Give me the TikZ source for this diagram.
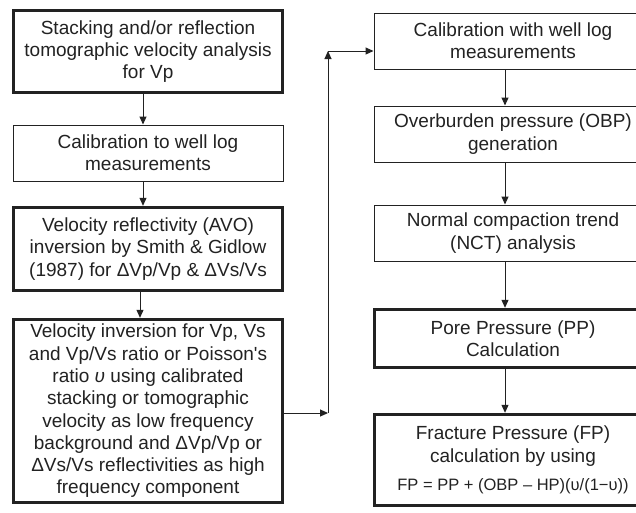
\documentclass[tikz,border=0pt]{standalone}
\usepackage{fontspec}
\setmainfont{Liberation Sans}
\usetikzlibrary{arrows.meta}
\definecolor{ink}{HTML}{222222}
\tikzset{
  box/.style={draw=ink, line width=1pt, rectangle, inner sep=0pt, align=center,
     text=ink, font=\fontsize{19}{22.3}\selectfont},
  thickbox/.style={box, line width=3.4pt},
  conn/.style={draw=ink, line width=1pt, -{Triangle[length=8pt,width=7pt]}},
  plain/.style={draw=ink, line width=1pt}
}
\begin{document}
\begin{tikzpicture}[x=1pt,y=-1pt]
\clip (0,0) rectangle (636,512);
\fill[white] (0,0) rectangle (636,512);
% left column
\node[thickbox, minimum width=269pt, minimum height=82pt] (b1) at (148,51.5)
  {Stacking and/or reflection\\tomographic velocity analysis\\for Vp};
\node[box, minimum width=270pt, minimum height=56pt] (b2) at (148,153)
  {Calibration to well log\\measurements};
\node[thickbox, minimum width=269pt, minimum height=83pt] (b3) at (148,249)
  {Velocity reflectivity (AVO)\\inversion by Smith \& Gidlow\\(1987) for ΔVp/Vp \& ΔVs/Vs};
\node[thickbox, minimum width=269pt, minimum height=183pt] (b4) at (148,411)
  {Velocity inversion for Vp, Vs\\and Vp/Vs ratio or Poisson\textquotesingle s\\ratio {\itshape υ} using calibrated\\stacking or tomographic\\velocity as low frequency\\background and ΔVp/Vp or\\ΔVs/Vs reflectivities as high\\frequency component};
% right column
\node[box, minimum width=278pt, minimum height=56pt] (b5) at (513,41)
  {Calibration with well log\\measurements};
\node[box, minimum width=278pt, minimum height=56pt] (b6) at (513,134)
  {Overburden pressure (OBP)\\generation};
\node[box, minimum width=278pt, minimum height=56pt] (b7) at (513,233)
  {Normal compaction trend\\(NCT) analysis};
\node[thickbox, minimum width=277pt, minimum height=58pt] (b8) at (513,338.5)
  {Pore Pressure (PP)\\Calculation};
\node[thickbox, minimum width=277pt, minimum height=91pt] (b9) at (513,460)
  {Fracture Pressure (FP)\\calculation by using\\[6pt]{\fontsize{16.5}{18}\selectfont FP = PP + (OBP – HP)(υ/(1−υ))}};
% connectors left
\draw[conn] ([xshift=-5pt]b1.south) -- ([xshift=-5pt]b2.north);
\draw[conn] ([xshift=-5pt]b2.south) -- ([xshift=-5pt]b3.north);
\draw[conn] ([xshift=-8pt]b3.south) -- ([xshift=-8pt]b4.north);
% connectors right
\draw[conn] ([xshift=-8pt]b5.south) -- ([xshift=-8pt]b6.north);
\draw[conn] ([xshift=-8pt]b6.south) -- ([xshift=-8pt]b7.north);
\draw[conn] ([xshift=-8pt]b7.south) -- ([xshift=-8pt]b8.north);
\draw[conn] ([xshift=-8pt]b8.south) -- ([xshift=-8pt]b9.north);
% loop connector
\coordinate (c1) at (328,413);
\coordinate (c2) at (328,51);
\draw[conn] ([yshift=-2pt]b4.east) -- (c1);
\draw[conn] (c1) -- (c2);
\draw[conn] (c2) -- (c2 -| b5.west);
\end{tikzpicture}
\end{document}
